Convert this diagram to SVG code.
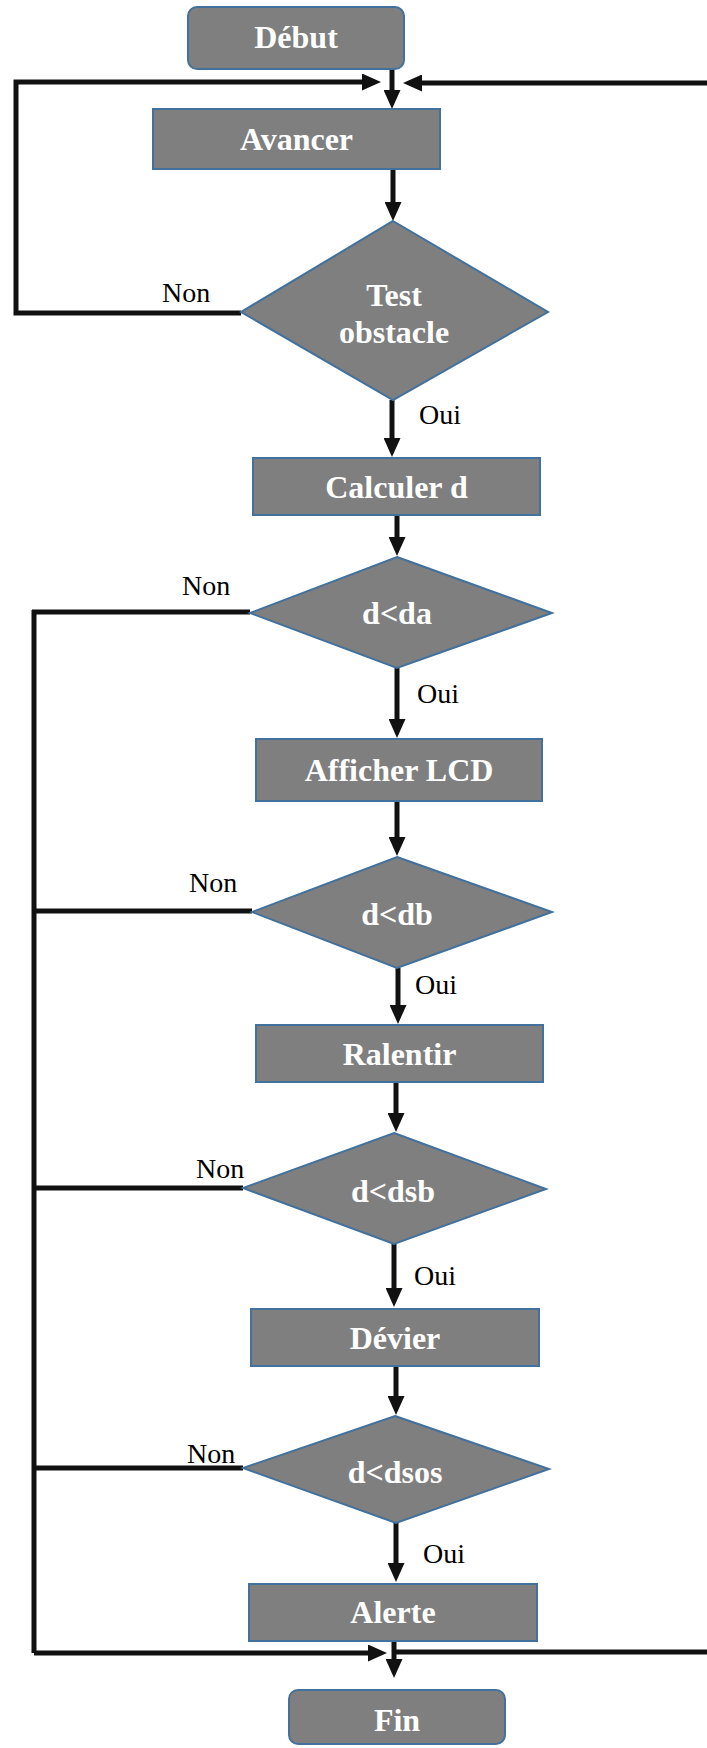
<svg xmlns="http://www.w3.org/2000/svg" width="707" height="1748" viewBox="0 0 707 1748">
<style>
.n{fill:#7f7f7f;stroke:#41719c;stroke-width:2}
.t{font-family:"Liberation Serif","Times New Roman",serif;font-weight:bold;font-size:32px;fill:#fff;text-anchor:middle}
.l{font-family:"Liberation Serif","Times New Roman",serif;font-size:28px;fill:#000}
.c{fill:none;stroke:#111;stroke-width:5}
.a{marker-end:url(#ah)}
</style>
<defs>
<marker id="ah" markerUnits="userSpaceOnUse" markerWidth="19" markerHeight="17" refX="8" refY="8.5" orient="auto">
<path d="M0,0 L19,8.5 L0,17 z" fill="#111"/>
</marker>
</defs>
<rect width="707" height="1748" fill="#fff"/>
<g id="connectors">
<line class="c a" x1="392" y1="69" x2="392" y2="98"/>
<polyline class="c a" points="241,313 16,313 16,82 370,82"/>
<line class="c a" x1="707" y1="83" x2="414" y2="83"/>
<line class="c a" x1="393" y1="169" x2="393" y2="210"/>
<line class="c a" x1="392" y1="400" x2="392" y2="446"/>
<line class="c a" x1="397" y1="515" x2="397" y2="545"/>
<line class="c a" x1="397" y1="668" x2="397" y2="727"/>
<line class="c a" x1="397" y1="801" x2="397" y2="845"/>
<line class="c a" x1="398" y1="968" x2="398" y2="1013"/>
<line class="c a" x1="396" y1="1082" x2="396" y2="1121"/>
<line class="c a" x1="394" y1="1244" x2="394" y2="1296"/>
<line class="c a" x1="396" y1="1366" x2="396" y2="1404"/>
<line class="c a" x1="396" y1="1523" x2="396" y2="1571"/>
<line class="c a" x1="394" y1="1641" x2="394" y2="1667"/>
<line class="c" x1="34" y1="610" x2="34" y2="1653"/>
<line class="c" x1="250" y1="612" x2="32" y2="612"/>
<line class="c" x1="252" y1="911" x2="34" y2="911"/>
<line class="c" x1="243" y1="1188" x2="34" y2="1188"/>
<line class="c" x1="243" y1="1468" x2="34" y2="1468"/>
<polyline class="c a" points="34,1653 376,1653"/>
<line class="c" x1="394" y1="1652" x2="707" y2="1652"/>
</g>
<g id="debut"><rect class="n" x="188" y="7" width="216" height="62" rx="9"/><text class="t" x="296" y="48">Début</text></g>
<g id="avancer"><rect class="n" x="153" y="109" width="287" height="60"/><text class="t" x="296.5" y="150">Avancer</text></g>
<g id="test-obstacle"><polygon class="n" points="393,221 548,312 393,400 241,312"/><text class="t" x="394" y="306">Test</text><text class="t" x="394" y="343">obstacle</text></g>
<g id="calculer"><rect class="n" x="253" y="458" width="287" height="57"/><text class="t" x="396.5" y="498">Calculer d</text></g>
<g id="d-da"><polygon class="n" points="397,557 552,613 397,668 250,613"/><text class="t" x="397" y="624">d&lt;da</text></g>
<g id="afficher"><rect class="n" x="256" y="739" width="286" height="62"/><text class="t" x="399" y="781">Afficher LCD</text></g>
<g id="d-db"><polygon class="n" points="397,857 552,912 397,968 252,912"/><text class="t" x="397" y="925">d&lt;db</text></g>
<g id="ralentir"><rect class="n" x="256" y="1025" width="287" height="57"/><text class="t" x="399.5" y="1065">Ralentir</text></g>
<g id="d-dsb"><polygon class="n" points="394,1133 546,1189 394,1244 243,1188"/><text class="t" x="393" y="1202">d&lt;dsb</text></g>
<g id="devier"><rect class="n" x="251" y="1309" width="288" height="57"/><text class="t" x="395" y="1349">Dévier</text></g>
<g id="d-dsos"><polygon class="n" points="395,1416 549,1469 396,1523 243,1468"/><text class="t" x="395" y="1483">d&lt;dsos</text></g>
<g id="alerte"><rect class="n" x="249" y="1584" width="288" height="57"/><text class="t" x="393" y="1623">Alerte</text></g>
<g id="fin"><rect class="n" x="289" y="1690" width="216" height="54" rx="9"/><text class="t" x="397" y="1731">Fin</text></g>
<g id="labels">
<text class="l" x="162" y="302">Non</text>
<text class="l" x="419" y="424">Oui</text>
<text class="l" x="182" y="595">Non</text>
<text class="l" x="417" y="703">Oui</text>
<text class="l" x="189" y="892">Non</text>
<text class="l" x="415" y="994">Oui</text>
<text class="l" x="196" y="1178">Non</text>
<text class="l" x="414" y="1285">Oui</text>
<text class="l" x="187" y="1463">Non</text>
<text class="l" x="423" y="1563">Oui</text>
</g>
</svg>
